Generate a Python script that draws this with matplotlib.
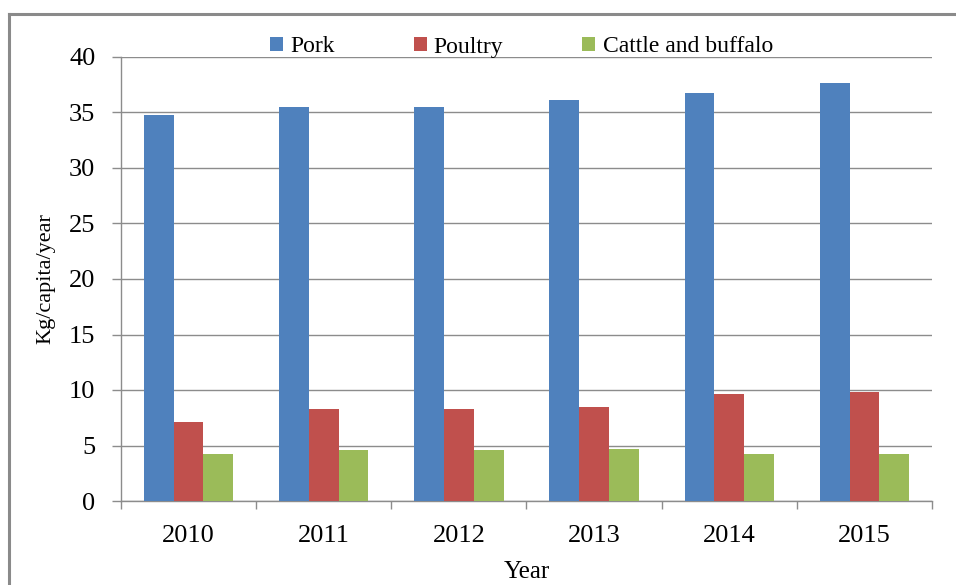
import matplotlib
matplotlib.use("Agg")
import matplotlib.pyplot as plt
import numpy as np
from matplotlib.lines import Line2D
from matplotlib.patches import Patch

plt.rcParams['font.family'] = ['Liberation Serif', 'DejaVu Serif']

years = ['2010', '2011', '2012', '2013', '2014', '2015']
pork = [34.8, 35.5, 35.5, 36.1, 36.8, 37.7]
poultry = [7.1, 8.3, 8.3, 8.5, 9.6, 9.8]
cattle = [4.2, 4.55, 4.55, 4.65, 4.2, 4.2]
series_names = ['Pork', 'Poultry', 'Cattle and buffalo']
colors = ['#4F81BD', '#C0504D', '#9BBB59']

W, H = 956, 585
fig = plt.figure(figsize=(W / 100, H / 100), dpi=100)
ax = fig.add_axes([121 / W, 1 - 501 / H, (932 - 121) / W, (501 - 57) / H])

x = np.arange(len(years))
bw = 0.22
for i, (vals, c) in enumerate(zip([pork, poultry, cattle], colors)):
    ax.bar(x + (i - 1) * bw, vals, width=bw, color=c, edgecolor='none', zorder=3)

ax.set_xlim(-0.5, len(years) - 0.5)
ax.set_ylim(0, 40)
ax.set_yticks(np.arange(0, 41, 5))
ax.yaxis.grid(True, color='#8c8c8c', linewidth=1.0, zorder=0)
ax.set_axisbelow(True)

grey = '#8c8c8c'
for s in ['top', 'right']:
    ax.spines[s].set_visible(False)
for s in ['left', 'bottom']:
    ax.spines[s].set_color(grey)
    ax.spines[s].set_linewidth(1.0)

ax.set_xticks(x)
ax.set_xticklabels(years, fontsize=19)
ax.set_xticks(np.arange(-0.5, len(years), 1.0), minor=True)
ax.tick_params(axis='x', which='major', length=0, pad=17)
ax.tick_params(axis='x', which='minor', length=6, color=grey, width=1.0, direction='out')
ax.tick_params(axis='y', length=6.5, color=grey, width=1.0, direction='out', labelsize=19, pad=12)

ax.set_xlabel('Year', fontsize=18, labelpad=10)
ax.set_ylabel('Kg/capita/year', fontsize=16, labelpad=10)

handles = [Patch(facecolor=c, edgecolor='none') for c in colors]
fig.legend(handles, series_names, loc='center left', bbox_to_anchor=(270 / W, 1 - 47 / H),
           ncol=3, frameon=False, fontsize=17, handlelength=0.55, handleheight=0.55,
           handletextpad=0.3, columnspacing=3.35, borderaxespad=0, borderpad=0)

# outer frame of the figure (open to the right and bottom)
fig.add_artist(Line2D([9 / W, 9 / W], [0, 1 - 14 / H], transform=fig.transFigure,
                      color='#8a8a8a', linewidth=2.2))
fig.add_artist(Line2D([9 / W, 1], [1 - 14 / H, 1 - 14 / H], transform=fig.transFigure,
                      color='#8a8a8a', linewidth=2.2))

fig.savefig('out.png', dpi=100)
